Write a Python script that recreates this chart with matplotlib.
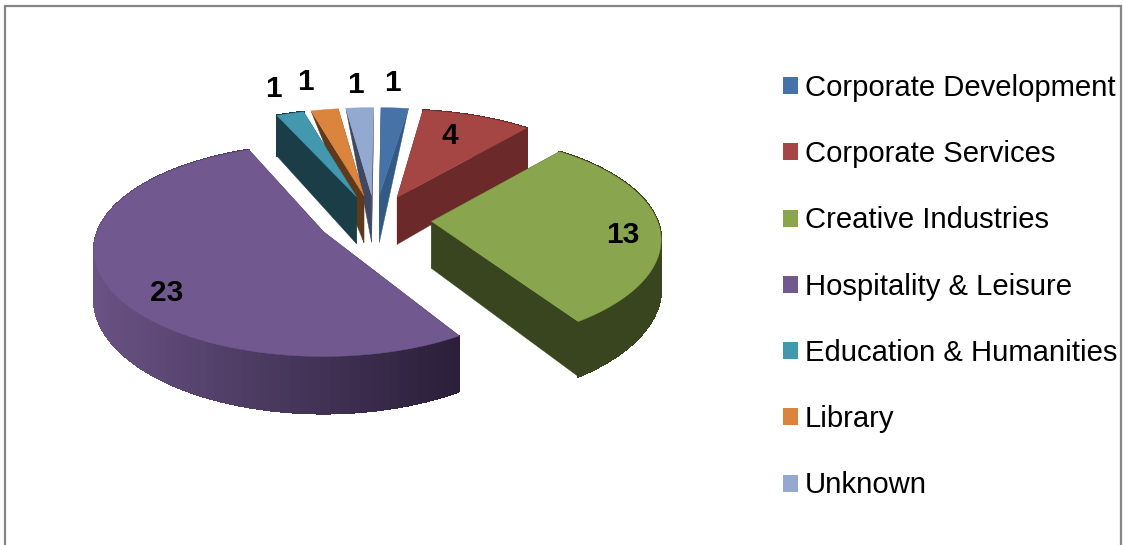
import matplotlib
matplotlib.use("Agg")
import matplotlib.pyplot as plt
from matplotlib.collections import PolyCollection
from matplotlib.colors import to_rgb
from matplotlib.patches import Patch, Polygon, Rectangle
import numpy as np

categories = ["Corporate Development", "Corporate Services", "Creative Industries",
              "Hospitality & Leisure", "Education & Humanities", "Library", "Unknown"]
values = [1, 4, 13, 23, 1, 1, 1]

top_colors = ["#4672A8", "#A64644", "#89A54E", "#71588F", "#4198AF", "#DB843D", "#93A9CF"]
side_colors = ["#335A85", "#6B2A29", "#39451F", "#2B1F3A", "#1A3D47", "#5F3A1A", "#3F4860"]
rim_left = "#6A5385"

# où vont les étiquettes (pixels de l'image)
label_pos = [(392, 83), (450, 136), (623, 235), (167, 293), (273, 89), (305, 82), (355, 85)]

# géométrie de la fausse 3D
cx, cy = 375, 220
a, b, k = 226, 103, 0.174
explode = 0.25
depth = 47
start = -1
turn = [1.5, 0.5, 0, 3, 1.5, 1.5, 1.5]  # petit décalage par part (la perspective n'est pas exacte)
draw_order = [0, 6, 5, 4, 1, 2, 3]
thin_face = {0: "end", 6: "start", 5: "start"}


def proj(theta):
    """point du bord du disque, relatif au centre, avec perspective"""
    t = np.radians(theta)
    d = 1 + k * np.cos(t)
    return a * np.sin(t) / d, -b * np.cos(t) / d


def thick(theta):
    return depth / (1 + k * np.cos(np.radians(theta)))


fig = plt.figure(figsize=(11.23, 5.45), dpi=100)
ax = fig.add_axes([0, 0, 1, 1])
ax.set_xlim(0, 1123)
ax.set_ylim(545, 0)
ax.axis("off")
plt.rcParams["font.family"] = ["Liberation Sans", "DejaVu Sans"]

ax.add_patch(Rectangle((5, 6), 1116, 560, fc="white", ec="#868686", lw=1.6))

angles = start + np.concatenate([[0], np.cumsum(values)]) * 360 / sum(values)

for i in draw_order:
    t1, t2 = angles[i] + turn[i], angles[i + 1] + turn[i]
    mid = np.radians((t1 + t2) / 2)
    tip_x = cx + a * explode * np.sin(mid) / (1 + k * explode * np.cos(mid))
    tip_y = cy - b * explode * np.cos(mid) / (1 + k * explode * np.cos(mid))
    tip_depth = depth

    # faces coupées
    for name, t in (("start", t1), ("end", t2)):
        px, py = proj(t)
        far = 0 if thin_face.get(i) == name else thick(t)
        ax.add_patch(Polygon([(tip_x, tip_y), (tip_x + px, tip_y + py),
                              (tip_x + px, tip_y + py + far), (tip_x, tip_y + tip_depth)],
                             fc=side_colors[i], ec=side_colors[i], lw=0.3))

    # bord extérieur
    if i not in thin_face:
        th = np.linspace(t1, t2, 90)
        quads, cols = [], []
        c0 = np.array(to_rgb(rim_left))
        c1 = np.array(to_rgb(side_colors[i]))
        for u, v in zip(th[:-1], th[1:]):
            x1, y1 = proj(u)
            x2, y2 = proj(v)
            quads.append([(tip_x + x1, tip_y + y1), (tip_x + x2, tip_y + y2),
                          (tip_x + x2, tip_y + y2 + thick(v)), (tip_x + x1, tip_y + y1 + thick(u))])
            if i == 3:
                s = np.clip((x1 + 233) / 366, 0, 1)
                cols.append(c0 + (c1 - c0) * s)
            else:
                cols.append(c1)
        ax.add_collection(PolyCollection(quads, facecolors=cols, edgecolors=cols,
                                         linewidths=1.0, antialiaseds=False))

    # dessus
    th = np.linspace(t1, t2, 90)
    xs, ys = proj(th)
    pts = [(tip_x, tip_y)] + list(zip(tip_x + xs, tip_y + ys))
    ax.add_patch(Polygon(pts, fc=top_colors[i], ec=top_colors[i], lw=0.3))

for v, (x, y) in zip(values, label_pos):
    ax.text(x, y, str(v), fontsize=21.5, fontweight="bold", color="black",
            ha="center", va="center")

handles = [Patch(fc=c, ec="none") for c in top_colors]
ax.legend(handles, categories, loc="upper left", bbox_to_anchor=(783, 74),
          bbox_transform=ax.transData, frameon=False, fontsize=21.1, borderpad=0,
          borderaxespad=0, handlelength=0.51, handleheight=0.51, handletextpad=0.24,
          labelspacing=1.305, labelcolor="black")

fig.savefig("out.png", dpi=100)
